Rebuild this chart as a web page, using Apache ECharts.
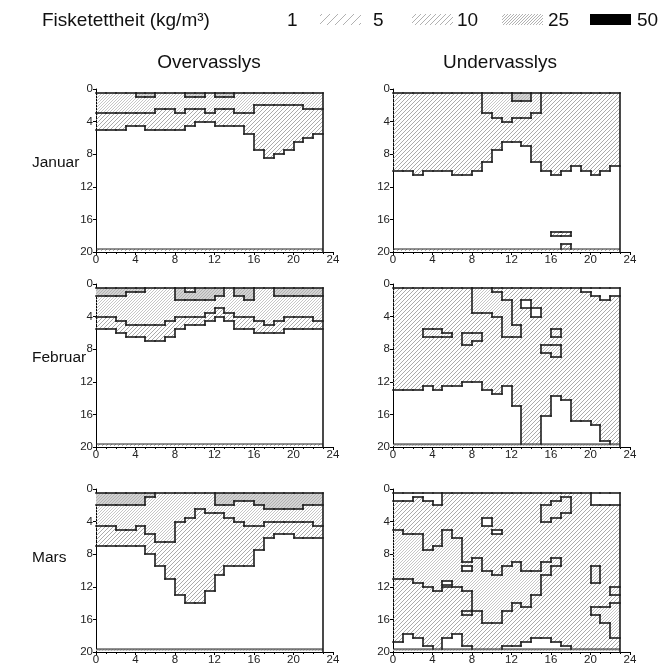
<!DOCTYPE html>
<html><head><meta charset="utf-8">
<script src="https://cdn.jsdelivr.net/npm/echarts@6/dist/echarts.min.js"></script>
<style>html,body{margin:0;padding:0;background:#fff}#c{width:661px;height:665px}</style>
</head><body><div id="c"></div>
<script>
// ---- data (density class per hour column: "class:bottomDepth ..." ; last run reaches the bottom) ----
// classes: 0 = 1, 1 = 5, 2 = 10, 3 = 25, 4 = 50 kg/m3
const legendValues = ['1', '5', '10', '25', '50'];
const panelTitles = ['Overvasslys', 'Undervasslys'];
const monthLabels = ['Januar', 'Februar', 'Mars'];
const depthTop = 0.5;
const depthBottom = 19.6;
const stripBottom = 19.9;

const janOver = ["2:3 1:5 0","2:3 1:5 0","2:3 1:5 0","2:3 1:4.5 0","3:1 2:3 1:4.5 0","3:1 2:3 1:5 0","2:2.5 1:5 0","2:2.5 1:5 0","2:3 1:5 0","3:1 2:2.5 1:4.5 0","3:1 2:2.5 1:4 0","2:3 1:4 0","3:1 2:2.5 1:4.5 0","3:1 2:2.5 1:4.5 0","2:3 1:4.5 0","2:3 1:5.5 0","2:2 1:7.5 0","2:2 1:8.5 0","2:2 1:8 0","2:2 1:7.5 0","2:2 1:6.5 0","2:2.5 1:6 0","2:2.5 1:5.5 0"];
const janUnder = ["1:10 0","1:10 0","1:10.5 0","1:10 0","1:10 0","1:10 0","1:10.5 0","1:10.5 0","1:10 0","2:3 1:9 0","2:3.5 1:7.5 0","2:4 1:6.5 0","3:1.5 2:3.5 1:6.5 0","3:1.5 2:3.5 1:7 0","2:3 1:9 0","1:10 0","1:10.5 0:17.5 1:18 0","1:10 0:17.5 1:18 0:19 1","1:9.5 0","1:10 0","1:10.5 0","1:10 0","1:9.5 0"];
const febOver = ["3:1.5 2:4 1:5.5 0","3:1.5 2:4 1:5.5 0","3:1.5 2:4.5 1:6 0","3:1 2:5 1:6.5 0","3:1 2:5 1:6.5 0","2:5 1:7 0","2:5 1:7 0","2:4.5 1:6.5 0","3:2 2:4 1:5.5 0","2:1 3:2 2:4 1:5 0","3:2 2:4 1:5 0","3:2 2:3.5 1:4.5 0","3:1.5 2:3 1:4 0","2:3.5 1:4.5 0","3:1.5 2:4 1:5.5 0","3:2 2:4 1:5.5 0","2:4.5 1:6 0","2:5 1:6 0","3:1.5 2:4.5 1:6 0","3:1.5 2:4 1:5.5 0","3:1.5 2:4 1:5.5 0","3:1.5 2:4 1:5.5 0","3:1.5 2:4.5 1:5.5 0"];
const febUnder = ["1:13 0","1:13 0","1:13 0","1:5.5 2:6.5 1:12.5 0","1:5.5 2:6.5 1:13 0","1:6 2:6.5 1:12.5 0","1:12.5 0","1:6 2:7.5 1:12 0","2:3.5 1:6 2:7 1:12 0","2:3.5 1:13 0","1:1 2:4 1:13.5 0","1:2 2:6.5 1:12.5 0","1:5 2:6.5 1:15 0","1:2 0:3 1","1:3 0:4 1","1:7.5 2:8.5 1:16.25 0","1:5.5 2:6.5 1:7.5 2:9 1:13.75 0","1:14.25 0","1:16.75 0","0:1 1:16.75 0","0:1.5 1:17.25 0","0:2 1:19.25 0","0:1.5 1"];
const marOver = ["3:2 2:4.5 1:7 0","3:2 2:4.5 1:7 0","3:2 2:5 1:7 0","3:2 2:5 1:7 0","3:2 2:4.5 1:7 0","3:1 2:5.5 1:8 0","2:6.5 1:9.5 0","2:6.5 1:11 0","2:4 1:13 0","2:3.5 1:14 0","2:2.5 1:14 0","2:3 1:12.5 0","3:2 2:3 1:10.5 0","3:2 2:3.5 1:9.5 0","3:1.5 2:4 1:9.5 0","3:1.5 2:4.5 1:9.5 0","3:2 2:4.5 1:7.5 0","3:2.5 2:4 1:6 0","3:2.5 2:4 1:5.5 0","3:2.5 2:4 1:5.5 0","3:2.5 2:4 1:6 0","3:2 2:4 1:6 0","3:2 2:4.5 1:6 0"];
const marUnder = ["0:1.5 1:5 2:11 1:18.75 0","0:1.5 1:5.5 2:11 1:17.75 0","0:1 1:5.5 2:11.5 1:18.25 0","0:1.5 1:7.5 2:12 1:19.25 0","0:2 1:7 2:12.5 1","1:5 2:11.25 0:11.75 2:12 1:18.25 0","1:6 2:12 1:17.75 0","1:9 2:9.5 0:10 2:12.5 1:15 2:15.5 1:19.25 0","1:8.5 2:15 1","1:3.5 0:4.5 1:10 2:16.5 1","1:5 0:5.5 1:10.5 2:16.5 1","1:9.5 2:15 1:19.25 0","1:9 2:14 1:19.25 0","1:10 2:14.5 1:18.75 0","1:10 2:13 1:18.25 0","1:2 2:4 1:9 2:10.5 1:18.25 0","1:1.5 2:3.5 1:8.5 2:9.5 1:18.75 0","1:1 2:3 1:19.25 0","1","1","0:2 1:9.5 2:11.5 1:14.5 2:15.5 1","0:2 1:14.5 2:16.5 1","0:2 1:12 2:13 1:14 2:18.25 1"];
const bottomStripClass = [1, 1, 1, 3, 3, 3];

const panels = [janOver, janUnder, febOver, febUnder, marOver, marUnder];

// ---- helpers ----
function parseColumn(str) {
  return str.trim().split(/\s+/).map(tok => {
    const p = tok.split(':');
    return { c: +p[0], to: p.length > 1 ? +p[1] : depthBottom };
  });
}
const parsed = panels.map(p => p.map(parseColumn));
function classAt(runs, d) {
  for (const r of runs) { if (d < r.to) return r.c; }
  return runs[runs.length - 1].c;
}
function hatch(step, color, lw, bg) {
  const c = document.createElement('canvas');
  c.width = step; c.height = step;
  const g = c.getContext('2d');
  if (bg) { g.fillStyle = bg; g.fillRect(0, 0, step, step); }
  g.strokeStyle = color; g.lineWidth = lw;
  g.beginPath();
  g.moveTo(-1, step + 1); g.lineTo(step + 1, -1);
  g.moveTo(-step / 2 - 1, step / 2 + 1); g.lineTo(step / 2 + 1, -step / 2 - 1);
  g.moveTo(step / 2 - 1, step * 1.5 + 1); g.lineTo(step * 1.5 + 1, step / 2 - 1);
  g.stroke();
  return { type: 'pattern', image: c, repeat: 'repeat' };
}
const fills = [
  null,
  hatch(4, '#969696', 0.8),
  hatch(3, '#b8b8b8', 0.8),
  hatch(3, '#a8a8a8', 0.8, '#d4d4d4'),
  '#000'
];
const legendFills = [null, hatch(8, '#a8a8a8', 0.9), hatch(5, '#a8a8a8', 0.9), hatch(3, '#a8a8a8', 0.9), '#000'];

const LINE = { stroke: '#1c1c1c', lineWidth: 1.6, lineCap: 'square' };
const THIN = { stroke: '#222', lineWidth: 1 };

function makeFillRender(pi) {
  return function (params, api) {
    const h = api.value(0);
    const runs = parsed[pi][h];
    const pt = (x, d) => { const p = api.coord([x, d]); return [Math.round(p[0]), Math.round(p[1])]; };
    const children = [];
    let top = depthTop;
    for (const r of runs) {
      if (r.c > 0) {
        const a = pt(h, top), b = pt(h + 1, r.to);
        children.push({ type: 'rect', shape: { x: a[0], y: a[1], width: b[0] - a[0], height: b[1] - a[1] }, style: { fill: fills[r.c] } });
      }
      top = r.to;
    }
    const sc = bottomStripClass[pi];
    if (sc > 0) {
      const a = pt(h, depthBottom), b = pt(h + 1, stripBottom);
      children.push({ type: 'rect', shape: { x: a[0], y: a[1], width: b[0] - a[0], height: b[1] - a[1] }, style: { fill: fills[sc] } });
    }
    return { type: 'group', children };
  };
}
function makeLineRender(pi) {
  return function (params, api) {
    const h = api.value(0);
    const cols = parsed[pi];
    const runs = cols[h];
    const pt = (x, d) => { const p = api.coord([x, d]); return [Math.round(p[0]), Math.round(p[1])]; };
    const children = [];
    const seg = (x1, d1, x2, d2, st) => {
      const a = pt(x1, d1), b = pt(x2, d2);
      children.push({ type: 'line', shape: { x1: a[0], y1: a[1], x2: b[0], y2: b[1] }, style: st || LINE });
    };
    for (let k = 0; k < runs.length - 1; k++) seg(h, runs[k].to, h + 1, runs[k].to);
    seg(h, depthTop, h + 1, depthTop);
    seg(h, depthBottom, h + 1, depthBottom, THIN);
    if (h > 0) {
      const prev = cols[h - 1];
      const bps = Array.from(new Set([depthTop, depthBottom].concat(prev.map(r => r.to), runs.map(r => r.to))))
        .filter(v => v <= depthBottom).sort((a, b) => a - b);
      for (let i = 0; i < bps.length - 1; i++) {
        const m = (bps[i] + bps[i + 1]) / 2;
        if (classAt(prev, m) !== classAt(runs, m)) seg(h, bps[i], h, bps[i + 1]);
      }
    }
    if (h === cols.length - 1) seg(h + 1, depthTop, h + 1, 20);
    return { type: 'group', children };
  };
}

// ---- layout ----
const gridPos = [
  { left: 96, top: 89 }, { left: 393, top: 89 },
  { left: 96, top: 284 }, { left: 393, top: 284 },
  { left: 96, top: 489 }, { left: 393, top: 489 }
];
const AXFONT = 'Liberation Sans';
const grids = [], xAxes = [], yAxes = [], series = [];
gridPos.forEach((g, i) => {
  grids.push({ left: g.left, top: g.top, width: 237, height: 163, containLabel: false, outerBoundsMode: 'none' });
  xAxes.push({
    gridIndex: i, type: 'value', min: 0, max: 24, interval: 4,
    axisLine: { show: true, onZero: false, lineStyle: { color: '#000', width: 1 } },
    axisTick: { show: true, length: 3, lineStyle: { color: '#000' } },
    minorTick: { show: true, splitNumber: 4, length: 2, lineStyle: { color: '#000' } },
    splitLine: { show: false },
    axisLabel: { fontSize: 11.5, color: '#222', margin: 2, fontFamily: AXFONT }
  });
  yAxes.push({
    gridIndex: i, type: 'value', min: 0, max: 20, interval: 4, inverse: true,
    axisLine: { show: true, onZero: false, lineStyle: { color: '#000', width: 1 } },
    axisTick: { show: true, length: 3, lineStyle: { color: '#000' } },
    splitLine: { show: false },
    axisLabel: { fontSize: 11.5, color: '#222', margin: 3, fontFamily: AXFONT }
  });
  const data = panels[i].map((s, h) => [h]);
  series.push({ type: 'custom', xAxisIndex: i, yAxisIndex: i, data, renderItem: makeFillRender(i), silent: true, clip: false, z: 1, encode: { x: 0 } });
  series.push({ type: 'custom', xAxisIndex: i, yAxisIndex: i, data, renderItem: makeLineRender(i), silent: true, clip: false, z: 3, encode: { x: 0 } });
});

const TFONT = '19px "Liberation Sans", Arial, sans-serif';
const graphic = [];
graphic.push({ type: 'text', x: 42, y: 21, style: { text: 'Fisketettheit (kg/m³)', font: TFONT, fill: '#111', verticalAlign: 'middle' } });
const labelX = [287, 373, 457, 548, 637];
const sampleX = [null, 320, 412, 502, 590];
legendValues.forEach((v, k) => {
  graphic.push({ type: 'text', x: labelX[k], y: 21, style: { text: v, font: TFONT, fill: '#111', verticalAlign: 'middle' } });
  if (k > 0) graphic.push({ type: 'rect', shape: { x: sampleX[k], y: 14, width: 41, height: 11 }, style: { fill: legendFills[k] } });
});
graphic.push({ type: 'text', x: 209, y: 63, style: { text: panelTitles[0], font: TFONT, fill: '#111', align: 'center', verticalAlign: 'middle' } });
graphic.push({ type: 'text', x: 500, y: 63, style: { text: panelTitles[1], font: TFONT, fill: '#111', align: 'center', verticalAlign: 'middle' } });
const monthY = [163, 358, 558];
monthLabels.forEach((m, k) => {
  graphic.push({ type: 'text', x: 32, y: monthY[k], style: { text: m, font: '15.5px "Liberation Sans", Arial, sans-serif', fill: '#111', verticalAlign: 'middle' } });
});

const chart = echarts.init(document.getElementById('c'), null, { renderer: 'canvas' });
chart.setOption({
  animation: false,
  backgroundColor: '#fff',
  grid: grids, xAxis: xAxes, yAxis: yAxes, series, graphic
});
</script>
</body></html>
